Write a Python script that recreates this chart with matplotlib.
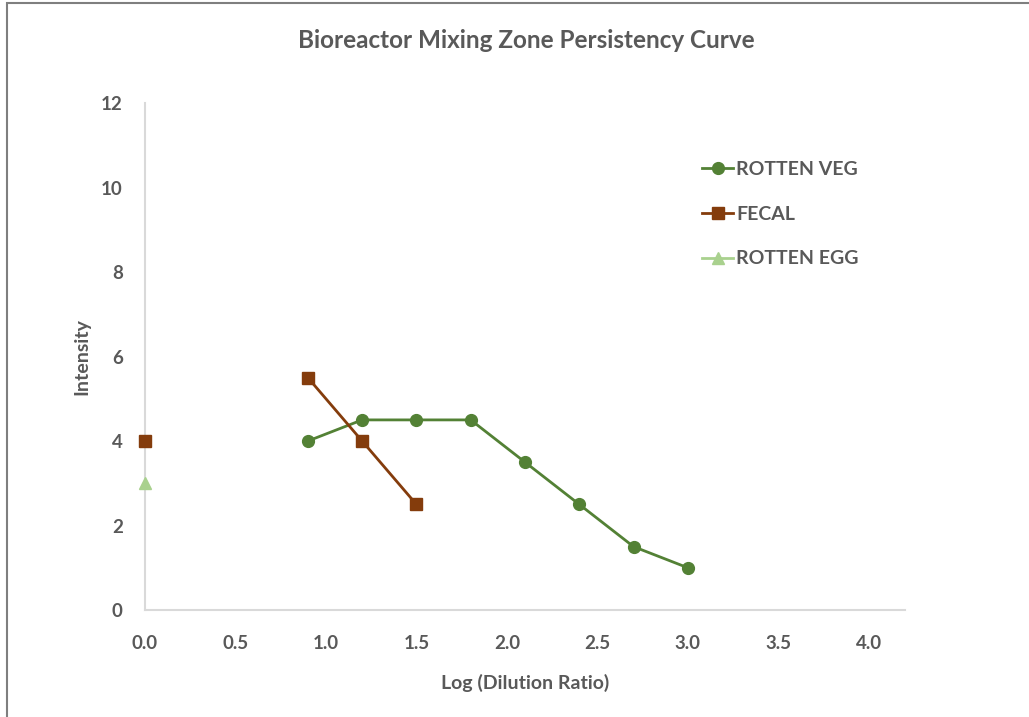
import numpy as np
import matplotlib.pyplot as plt
from matplotlib.patches import Rectangle

# log dilution ratio values shared by all series
dilution = [0.0, 0.3, 0.6, 0.9, 1.2, 1.5, 1.8, 2.1, 2.4, 2.7, 3.0]

rotten_veg = [np.nan, np.nan, np.nan, 4.0, 4.5, 4.5, 4.5, 3.5, 2.5, 1.5, 1.0]
fecal = [4.0, np.nan, np.nan, 5.5, 4.0, 2.5, np.nan, np.nan, np.nan, np.nan, np.nan]
rotten_egg = [3.0, np.nan, np.nan, np.nan, np.nan, np.nan, np.nan, np.nan, np.nan, np.nan, np.nan]

x_ticks = [0.0, 0.5, 1.0, 1.5, 2.0, 2.5, 3.0, 3.5, 4.0]
y_ticks = [0, 2, 4, 6, 8, 10, 12]

plt.rcParams['font.family'] = ['Lato', 'DejaVu Sans']
text_color = '#595959'

fig = plt.figure(figsize=(10.29, 7.17), dpi=100)
ax = fig.add_axes([0.1409, 0.1492, 0.7386, 0.7071])

ax.plot(dilution, rotten_veg, color='#538135', marker='o', markersize=8.5, linewidth=2,
        label='ROTTEN VEG', clip_on=False, zorder=3)
ax.plot(dilution, fecal, color='#843c0c', marker='s', markersize=8.5, linewidth=2,
        label='FECAL', clip_on=False, zorder=3)
ax.plot(dilution, rotten_egg, color='#a9d18e', marker='^', markersize=8.5, linewidth=2,
        label='ROTTEN EGG', clip_on=False, zorder=3)

ax.set_xlim(0, 4.2)
ax.set_ylim(0, 12)
ax.set_xticks(x_ticks)
ax.set_xticklabels([f'{t:.1f}' for t in x_ticks])
ax.set_yticks(y_ticks)
ax.tick_params(length=0, labelsize=13.5, labelcolor=text_color)
ax.tick_params(axis='x', pad=18)
ax.tick_params(axis='y', pad=16)
for lab in ax.get_xticklabels() + ax.get_yticklabels():
    lab.set_fontweight('bold')

for side in ['top', 'right']:
    ax.spines[side].set_visible(False)
for side in ['left', 'bottom']:
    ax.spines[side].set_color('#d9d9d9')
    ax.spines[side].set_linewidth(1.5)

ax.set_xlabel('Log (Dilution Ratio)', fontsize=14, fontweight='bold', color=text_color, labelpad=16)
ax.set_ylabel('Intensity', fontsize=14, fontweight='bold', color=text_color, labelpad=8)
fig.suptitle('Bioreactor Mixing Zone Persistency Curve', x=0.511, y=0.96,
             fontsize=17.5, fontweight='bold', color=text_color)

leg = ax.legend(loc='upper left', bbox_to_anchor=(0.71, 0.92), frameon=False,
                fontsize=14, labelspacing=1.42, handlelength=1.6, handletextpad=0.15)
for t in leg.get_texts():
    t.set_color(text_color)
    t.set_fontweight('bold')

fig.patches.append(Rectangle((0.007, -0.05), 1.1, 1.046, transform=fig.transFigure,
                             fill=False, edgecolor='#7f7f7f', linewidth=1.5))

fig.savefig('out.png', dpi=100)
